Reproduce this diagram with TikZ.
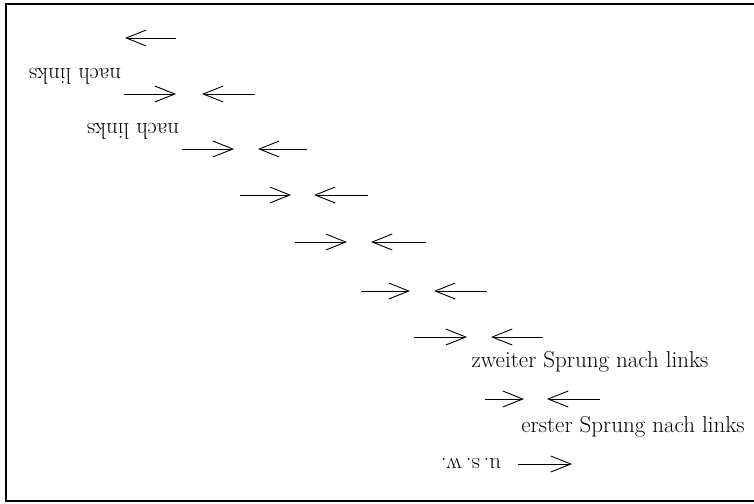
\documentclass[tikz,border=0pt]{standalone}
\usetikzlibrary{arrows.meta}
\begin{document}
\begin{tikzpicture}[x=1pt,y=-1pt,
  jump/.style={line width=0.8pt,-{Straight Barb[length=20pt,width=16pt,line width=0.9pt]}},
  lbl/.style={anchor=base,inner sep=0pt,font=\fontsize{23}{27}\selectfont},
  flip/.style={lbl,rotate=180}]
\useasboundingbox (0,0) rectangle (754,503);
\draw[line width=1.6pt] (754,4) -- (6,4) -- (6,501) -- (754,501);
% row coordinates: right arrows (tail a, tip b), left arrows (tail c, tip d)
\coordinate (c1) at (176,38); \coordinate (d1) at (125,38);
\coordinate (a2) at (124,94); \coordinate (b2) at (176,94);
\coordinate (c2) at (255,94); \coordinate (d2) at (202,94);
\coordinate (a3) at (182,149); \coordinate (b3) at (234,149);
\coordinate (c3) at (307,149); \coordinate (d3) at (258,149);
\coordinate (a4) at (240,195); \coordinate (b4) at (291,195);
\coordinate (c4) at (368,195); \coordinate (d4) at (314,195);
\coordinate (a5) at (295,242); \coordinate (b5) at (347,242);
\coordinate (c5) at (426,242); \coordinate (d5) at (371,242);
\coordinate (a6) at (361,291); \coordinate (b6) at (410,291);
\coordinate (c6) at (487,291); \coordinate (d6) at (434,291);
\coordinate (a7) at (414,337); \coordinate (b7) at (467,337);
\coordinate (c7) at (543,337); \coordinate (d7) at (491,337);
\coordinate (a8) at (485,399); \coordinate (b8) at (524,399);
\coordinate (c8) at (600,399); \coordinate (d8) at (547,399);
\coordinate (a9) at (518,464); \coordinate (b9) at (572,464);
\draw[jump] (c1) -- (d1);
\foreach \i in {2,...,8}{
  \draw[jump] (a\i) -- (b\i);
  \draw[jump] (c\i) -- (d\i);
}
\draw[jump] (a9) -- (b9);
\node[flip] (t1) at (75,68) {nach links};
\node[flip] (t2) at (133,123) {nach links};
\node[lbl] (t3) at (590,367) {zweiter Sprung nach links};
\node[lbl] (t4) at (633,432) {erster Sprung nach links};
\node[flip] (t5) at (471,458) {u.\,s.\,w.};
\end{tikzpicture}
\end{document}
